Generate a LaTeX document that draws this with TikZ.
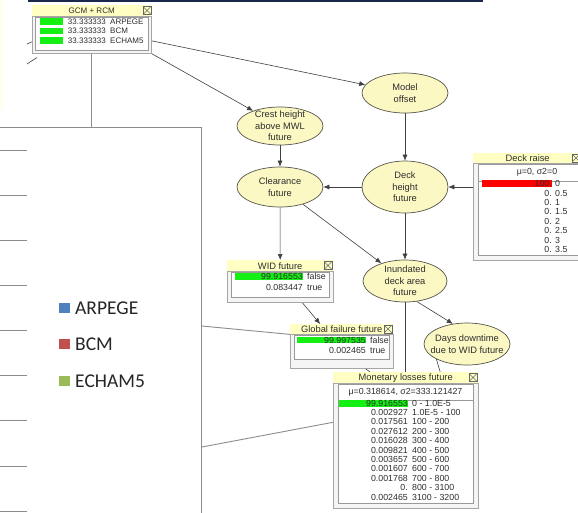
\documentclass[tikz,border=0pt]{standalone}
\usepackage{fontspec}
\setmainfont{Liberation Sans}
\newfontfamily\legfont{Carlito}
\usetikzlibrary{shapes.geometric,arrows.meta,calc}
\pgfdeclarelayer{background}
\pgfsetlayers{background,main}
\definecolor{ellfill}{RGB}{252,248,196}
\definecolor{ellline}{RGB}{85,85,75}
\definecolor{titlefill}{RGB}{255,255,196}
\definecolor{bargreen}{RGB}{20,240,20}
\definecolor{barred}{RGB}{255,0,0}
\definecolor{navy}{RGB}{25,40,75}
\definecolor{paleyel}{RGB}{255,255,236}
\definecolor{legblue}{RGB}{79,129,189}
\definecolor{legred}{RGB}{192,80,77}
\definecolor{leggreen}{RGB}{155,187,89}
\definecolor{txt}{RGB}{45,45,45}
\begin{document}
\begin{tikzpicture}[x=1pt,y=-1pt,
  ell/.style={ellipse, draw=ellline, fill=ellfill, line width=0.7pt, inner sep=0pt, minimum width=86pt, minimum height=40pt},
  elltx/.style={align=center, inner sep=0pt, font=\fontsize{9.3}{11.5}\selectfont, text=txt},
  arr/.style={draw=black!75, line width=0.6pt, -{Latex[length=6pt,width=5pt]}},
  con/.style={draw=black!75, line width=0.6pt},
  pan/.style={draw=black!45, line width=0.9pt},
  panbox/.style={draw=black!45, line width=0.9pt, inner sep=0pt, anchor=north west},
  tbar/.style={fill=titlefill, draw=none, inner sep=0pt, anchor=north west, font=\fontsize{9.3}{10}\selectfont, text=txt},
  bodyo/.style={fill=black!4, draw=black!35, line width=0.6pt, inner sep=0pt, anchor=north west},
  bodyi/.style={fill=white, draw=black!40, line width=0.5pt, inner sep=0pt, anchor=north west},
  xbox/.style={draw=black!60, line width=0.5pt, minimum size=8pt, inner sep=0pt,
    path picture={\draw[black!60, line width=0.5pt]
      (path picture bounding box.north west) -- (path picture bounding box.south east)
      (path picture bounding box.north east) -- (path picture bounding box.south west);}},
  val/.style={anchor=east, inner sep=0pt, font=\fontsize{8.8}{9}\selectfont, text=txt, text height=6.3pt, text depth=0pt},
  lab/.style={anchor=west, inner sep=0pt, font=\fontsize{8.8}{9}\selectfont, text=txt, text height=6.3pt, text depth=0pt},
  valS/.style={anchor=east, inner sep=0pt, font=\fontsize{8}{8.5}\selectfont, text=txt, text height=5.8pt, text depth=0pt},
  labS/.style={anchor=west, inner sep=0pt, font=\fontsize{8}{8.5}\selectfont, text=txt, text height=5.8pt, text depth=0pt},
  subtx/.style={inner sep=0pt, font=\fontsize{8.8}{9}\selectfont, text=txt},
  legsq/.style={minimum size=10.5pt, inner sep=0pt, draw=none},
  legtx/.style={anchor=west, inner sep=0pt, font=\legfont\fontsize{19.5}{20}\selectfont, text=black!85},
  tick/.style={draw=black!45, line width=0.9pt}
]
\useasboundingbox (0,0) rectangle (578,512);
\begin{pgfonlayer}{background}
\fill[white] (0,0) rectangle (578,512);
\fill[paleyel] (0,0) rectangle (3,110);
\end{pgfonlayer}
\fill[navy] (28,0) rectangle (483,1.6);

% ---------- chart panel on the left ----------
\node[panbox, minimum width=206pt, minimum height=400pt] (panel) at (-5,127) {};
\foreach \t in {150,195,240,285,330,375,420.5,466,511}
  \draw[tick] (0,\t) -- (27,\t);
\node[legsq, fill=legblue] (sqA) at (64.5,308) {};
\node[legtx] (txA) at (75,308) {ARPEGE};
\node[legsq, fill=legred] (sqB) at (64.5,344) {};
\node[legtx] (txB) at (75,344) {BCM};
\node[legsq, fill=leggreen] (sqC) at (64.5,381) {};
\node[legtx] (txC) at (75,381) {ECHAM5};

% ---------- GCM + RCM ----------
\node[tbar, minimum width=119pt, minimum height=11pt, font=\fontsize{8}{9}\selectfont] (gcmT) at (32,5) {GCM + RCM};
\node[xbox] (gcmX) at (147,10.5) {};
\node[bodyo, minimum width=119pt, minimum height=37pt] (gcmB) at (32,16) {};
\node[bodyi, minimum width=113pt, minimum height=33pt] (gcmI) at (35,17) {};
\foreach \v/\l [count=\i] in {33.333333/ARPEGE,33.333333/BCM,33.333333/ECHAM5} {
  \fill[bargreen] (40,{21.5+9.5*(\i-1)-3.3}) rectangle (63,{21.5+9.5*(\i-1)+3.3});
  \node[valS] (gv\i) at (106,{21.5+9.5*(\i-1)}) {\v};
  \node[labS] (gl\i) at (110,{21.5+9.5*(\i-1)}) {\l};
}

% ---------- ellipses ----------
\node[ell] (model) at (405,93) {};
\node[elltx] (modelT) at (model) {Model\\offset};
\node[ell, minimum height=38pt] (crest) at (280,126) {};
\node[elltx] (crestT) at (crest) {Crest height\\above MWL\\future};
\node[ell] (clear) at (280,187) {};
\node[elltx] (clearT) at (clear) {Clearance\\future};
\node[ell, minimum height=52pt] (deck) at (405,187) {};
\node[elltx] (deckT) at (deck) {Deck\\height\\future};
\node[ell, minimum width=84pt, minimum height=42pt] (inund) at (405,281) {};
\node[elltx] (inundT) at (inund) {Inundated\\deck area\\future};
\node[ell, minimum height=42pt] (days) at (467,344) {};
\node[elltx] (daysT) at (days) {Days downtime\\due to WID future};

% ---------- Deck raise ----------
\node[tbar, minimum width=109pt, minimum height=10pt] (drT) at (473,153) {Deck raise};
\node[xbox] (drX) at (576,158) {};
\node[bodyo, minimum width=109pt, minimum height=97pt] (drB) at (473,163) {};
\node[bodyi, minimum width=104pt, minimum height=17pt] (drS) at (478,164) {};
\node[subtx] (drM) at (537,172.5) {μ=0, σ2=0};
\node[bodyi, minimum width=104pt, minimum height=74pt] (drI) at (478,181) {};
\fill[barred] (482,180) rectangle (552,187);
\foreach \v/\l [count=\i] in {100./0,0./0.5,0./1,0./1.5,0./2,0./2.5,0./3,0./3.5} {
  \node[val] (dv\i) at (552,{183.5+9.4*(\i-1)}) {\v};
  \node[lab] (dl\i) at (555,{183.5+9.4*(\i-1)}) {\l};
}

% ---------- WID future ----------
\node[tbar, minimum width=106pt, minimum height=11pt] (widT) at (227,260) {WID future};
\node[xbox] (widX) at (328,265.5) {};
\node[bodyo, minimum width=106pt, minimum height=31pt] (widB) at (227,271) {};
\node[bodyi, minimum width=98pt, minimum height=25pt] (widI) at (231,272) {};
\fill[bargreen] (235,273) rectangle (303,280);
\node[val] (wv1) at (303,276.5) {99.916553};
\node[lab] (wl1) at (307,276.5) {false};
\node[val] (wv2) at (303,287) {0.083447};
\node[lab] (wl2) at (307,287) {true};

% ---------- Global failure future ----------
\node[tbar, minimum width=103pt, minimum height=10pt] (globT) at (290,324) {Global failure future};
\node[xbox] (globX) at (388,329) {};
\node[bodyo, minimum width=103pt, minimum height=34pt] (globB) at (290,334) {};
\node[bodyi, minimum width=95pt, minimum height=24pt] (globI) at (294,335) {};
\fill[bargreen] (297,337) rectangle (366,343);
\node[val] (gfv1) at (366,340) {99.997535};
\node[lab] (gfl1) at (370,340) {false};
\node[val] (gfv2) at (366,350) {0.002465};
\node[lab] (gfl2) at (370,350) {true};

% ---------- Monetary losses future ----------
\node[tbar, minimum width=145pt, minimum height=11pt] (monT) at (333,372) {Monetary losses future};
\node[xbox] (monX) at (473,377.5) {};
\node[bodyo, minimum width=145pt, minimum height=125pt] (monB) at (333,383) {};
\node[bodyi, minimum width=135pt, minimum height=16pt] (monS) at (338,384) {};
\node[subtx] (monM) at (405.5,392) {μ=0.318614, σ2=333.121427};
\node[bodyi, minimum width=135pt, minimum height=103pt] (monI) at (338,400) {};
\fill[bargreen] (339,400) rectangle (408,406.5);
\foreach \v/\l [count=\i] in {99.916553/0 - 1.0E-5,0.002927/1.0E-5 - 100,0.017561/100 - 200,0.027612/200 - 300,0.016028/300 - 400,0.009821/400 - 500,0.003657/500 - 600,0.001607/600 - 700,0.001768/700 - 800,0./800 - 3100,0.002465/3100 - 3200} {
  \node[val] (mv\i) at (408,{403+9.4*(\i-1)}) {\v};
  \node[lab] (ml\i) at (412,{403+9.4*(\i-1)}) {\l};
}

% ---------- connectors ----------
\coordinate (stubA) at (27,44);
\coordinate (stubB) at (27,64);
\coordinate (stubBe) at (37,57.5);
\begin{pgfonlayer}{background}
\draw[pan] (gcmB.south) -- (gcmB.south |- panel.north);
\draw[pan] ([yshift=-199pt]panel.north east) -- (globT.south west);
\draw[pan] ([yshift=-320pt]panel.north east) -- ([yshift=23.5pt]monB.west);
\draw[con] (stubA) -- ([yshift=-7pt]gcmB.west);
\draw[con] (stubB) -- (stubBe);
\draw[arr] ([yshift=-6pt]gcmB.east) -- (model);
\draw[arr] (gcmB.south east) -- (crest);
\draw[arr] (crest) -- (clear);
\draw[arr] (model) -- (deck);
\draw[arr] (deck) -- (clear);
\draw[arr] (drB.west |- deck) -- (deck);
\draw[arr] (deck) -- (inund);
\draw[arr] (clear) -- (inund);
\draw[arr] (clear) -- (widT.north);
\draw[arr] ([xshift=22pt]widB.south) -- ([xshift=-21.5pt]globT.north);
\draw[arr] (inund.-60) -- (days.125);
\draw[con] (inund) -- (inund |- monT.north);
\draw[con] (days.south west) -- ([xshift=34.5pt]monT.north);
\draw[con] ([xshift=23.5pt]globB.south) -- ([xshift=-35.5pt]monT.north);
\end{pgfonlayer}
\end{tikzpicture}
\end{document}
